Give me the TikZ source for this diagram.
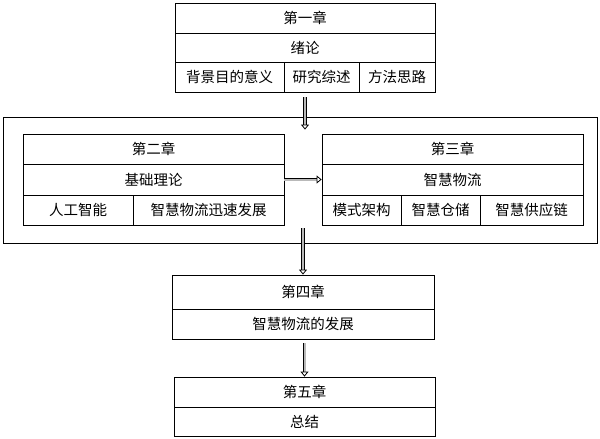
\documentclass[tikz,border=0pt]{standalone}
\usepackage{fontspec}
\newfontfamily\cjk{Noto Sans CJK SC}
\usetikzlibrary{arrows.meta}

\begin{document}
\begin{tikzpicture}[
	x=1pt, y=-1pt,
	cell/.style={ draw, line width=0.8pt, inner sep=0pt, font=\cjk\fontsize{14.5}{16}\selectfont },
	frame/.style={ draw, line width=0.8pt, inner sep=0pt },
	dblarrow/.style={ draw, line width=0.9pt, double=gray!55, double distance=2pt, -{Triangle[open, length=5pt, width=8pt, line width=0.8pt]} }
]
\useasboundingbox (0,0) rectangle (600,439);

% chapter one
\node at (305,18) (zhang1) [cell, minimum width=260pt, minimum height=30pt] {第一章};
\node at (305,47.5) (xulun) [cell, minimum width=260pt, minimum height=29pt] {绪论};
\node at (229.5,77) (beijing) [cell, minimum width=109pt, minimum height=30pt] {背景目的意义};
\node at (321.5,77) (yanjiu) [cell, minimum width=75pt, minimum height=30pt] {研究综述};
\node at (397,77) (fangfa) [cell, minimum width=76pt, minimum height=30pt] {方法思路};

% outer frame
\node at (300,180) (outer) [frame, minimum width=594pt, minimum height=126pt] {};

% chapter two
\node at (153.5,149) (zhang2) [cell, minimum width=261pt, minimum height=30pt] {第二章};
\node at (153.5,179.5) (lilun) [cell, minimum width=261pt, minimum height=31pt] {基础理论};
\node at (78,210) (rengong) [cell, minimum width=110pt, minimum height=30pt] {人工智能};
\node at (208.5,210) (xunsu) [cell, minimum width=151pt, minimum height=30pt] {智慧物流迅速发展};

% chapter three
\node at (452.5,149) (zhang3) [cell, minimum width=261pt, minimum height=30pt] {第三章};
\node at (452.5,179.5) (wuliu) [cell, minimum width=261pt, minimum height=31pt] {智慧物流};
\node at (361.5,210) (moshi) [cell, minimum width=79pt, minimum height=30pt] {模式架构};
\node at (440.5,210) (cangchu) [cell, minimum width=79pt, minimum height=30pt] {智慧仓储};
\node at (531.5,210) (gongying) [cell, minimum width=103pt, minimum height=30pt] {智慧供应链};

% chapter four
\node at (303,292) (zhang4) [cell, minimum width=262pt, minimum height=34pt] {第四章};
\node at (303,324) (fazhan) [cell, minimum width=262pt, minimum height=30pt] {智慧物流的发展};

% chapter five
\node at (304.5,392) (zhang5) [cell, minimum width=261pt, minimum height=30pt] {第五章};
\node at (304.5,421.5) (zongjie) [cell, minimum width=261pt, minimum height=29pt] {总结};

% arrows
\draw[dblarrow] ([yshift=-5pt]yanjiu.south -| zhang1.south) -- ([yshift=-13pt]outer.north -| zhang1.south);
\draw[dblarrow] (lilun.east) -- (wuliu.west);
\draw[dblarrow] ([yshift=-3pt]xunsu.south -| zhang4.north) -- (zhang4.north);
\draw[dblarrow] ([yshift=-4pt]fazhan.south -| zhang5.north) -- (zhang5.north);

\end{tikzpicture}
\end{document}
